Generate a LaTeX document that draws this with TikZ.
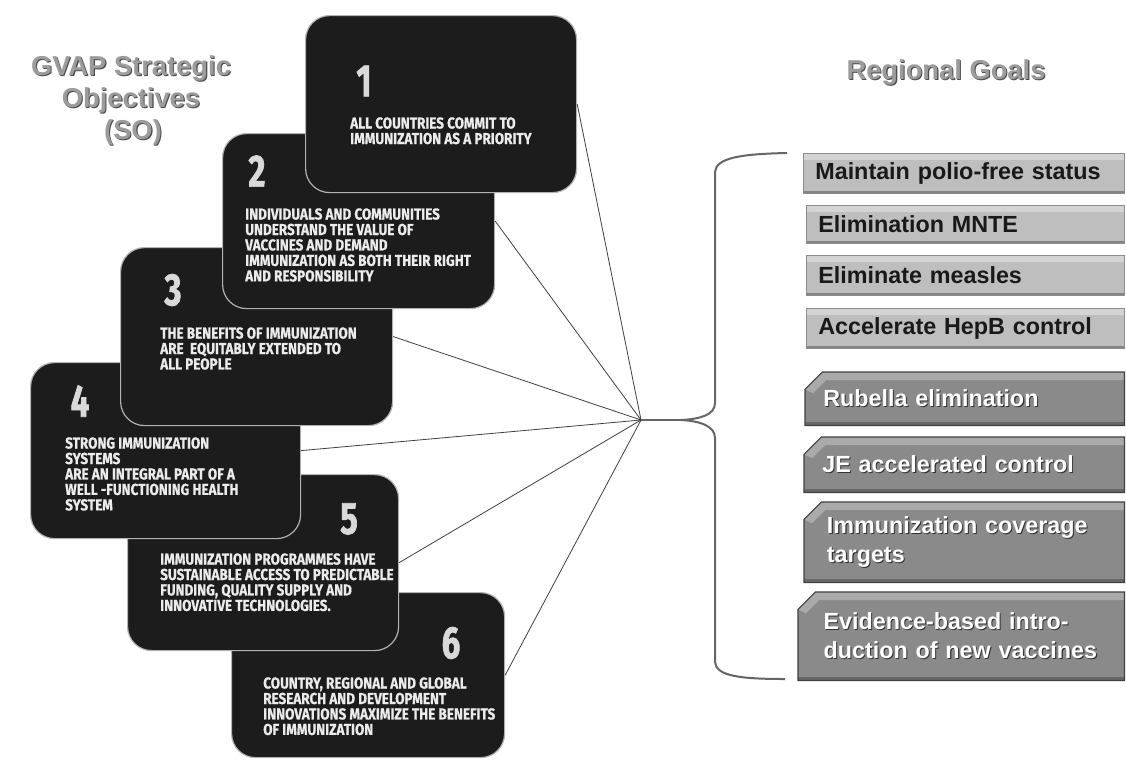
\documentclass[tikz,border=0pt]{standalone}
\usepackage{fontspec}
\setmainfont{Liberation Sans}
\newfontfamily\cardfont[FakeStretch=0.85,FakeBold=0.6]{Fira Sans}
\newfontfamily\numfont[FakeStretch=0.72,FakeBold=1.5]{Fira Sans}
\usetikzlibrary{backgrounds}
\definecolor{cardfill}{HTML}{1C1C1C}
\definecolor{goallight}{HTML}{BEBEBE}
\definecolor{goaldark}{HTML}{8A8A8A}
\definecolor{titlegray}{HTML}{9C9C9C}
\newcommand\shtext[2]{\makebox[0pt][l]{\textcolor{#1}{\kern0.8pt\raisebox{-0.8pt}{#2}}}#2}
\newcommand\bevelbox[1]{%
  \fill[goaldark] ([yshift=-13pt]#1.north west) -- ([xshift=13pt]#1.north west) -- (#1.north east) -- (#1.south east) -- (#1.south west) -- cycle;
  \fill[white,opacity=0.28] ([yshift=-13pt]#1.north west) -- ([xshift=13pt]#1.north west) -- (#1.north east) -- ([yshift=-6pt]#1.north east) -- ([shift={(16pt,-6pt)}]#1.north west) -- ([shift={(6pt,-16pt)}]#1.north west) -- cycle;
  \fill[black,opacity=0.25] ([yshift=3pt]#1.south west) rectangle (#1.south east);
  \draw[black!75, line width=0.9pt] ([yshift=-13pt]#1.north west) -- ([xshift=13pt]#1.north west) -- (#1.north east) -- (#1.south east) -- (#1.south west) -- cycle;
}
\begin{document}
\begin{tikzpicture}[x=0.75pt,y=-0.75pt,
  title/.style={inner sep=0pt, text=titlegray, font=\bfseries\fontsize{20.5}{24}\selectfont},
  card/.style={draw=white!70!black, line width=0.9pt, fill=cardfill, rounded corners=18pt, anchor=north west, inner sep=0pt},
  cardtext/.style={anchor=north west, inner sep=0pt, align=left, text=white!92!black, font=\cardfont\bfseries\fontsize{11.9}{11.6}\selectfont},
  num/.style={inner sep=0pt, text=white!85!black, font=\numfont\bfseries\fontsize{34}{34}\selectfont},
  link/.style={draw=black!75, line width=0.6pt},
  goalL/.style={rectangle, anchor=north west, fill=goallight, draw=black!45, line width=0.5pt, inner xsep=9pt, inner ysep=0pt, align=left, text=black!90, font=\bfseries\fontsize{17.5}{22}\selectfont,
    path picture={\fill[white,opacity=0.35] (path picture bounding box.north west) rectangle ([yshift=-5pt]path picture bounding box.north east);
                  \fill[black,opacity=0.3] (path picture bounding box.south west) rectangle ([yshift=2pt]path picture bounding box.south east);}},
  goalD/.style={rectangle, anchor=north west, inner ysep=0pt, inner xsep=13.5pt, align=left, text=white, font=\bfseries\fontsize{17.5}{22}\selectfont}
]
\useasboundingbox (0,0) rectangle (1126,760);

% titles
\node[title, anchor=base] (so1) at (131,75) {\shtext{black!70}{GVAP Strategic}};
\node[title, anchor=base] (so2) at (131,107) {\shtext{black!70}{Objectives}};
\node[title, anchor=base] (so3) at (133,139) {\shtext{black!70}{(SO)}};
\node[title, anchor=base] (rg) at (946,79) {\shtext{black!70}{Regional Goals}};

% cards (bottom first)
\node[card, minimum width=204.75pt, minimum height=123.75pt] (c6) at (231,592) {};
\node[num] (n6) at (451,643) {6};
\node[cardtext] (t6) at (263,677) {COUNTRY, REGIONAL AND GLOBAL\\RESEARCH AND DEVELOPMENT\\INNOVATIONS MAXIMIZE THE BENEFITS\\OF IMMUNIZATION};

\node[card, minimum width=203.25pt, minimum height=132pt] (c5) at (127,474) {};
\node[num] (n5) at (349,519) {5};
\node[cardtext] (t5) at (160,553) {IMMUNIZATION PROGRAMMES HAVE\\SUSTAINABLE ACCESS TO PREDICTABLE\\FUNDING, QUALITY SUPPLY AND\\INNOVATIVE TECHNOLOGIES.};

\node[card, minimum width=202.5pt, minimum height=132pt] (c4) at (30,362) {};
\node[num] (n4) at (80,401) {4};
\node[cardtext] (t4) at (65,437) {STRONG IMMUNIZATION\\SYSTEMS\\ARE AN INTEGRAL PART OF A\\WELL -FUNCTIONING HEALTH\\SYSTEM};

\node[card, minimum width=204pt, minimum height=133.5pt] (c3) at (120,247) {};
\node[num] (n3) at (173,290) {3};
\node[cardtext] (t3) at (160,327) {THE BENEFITS OF IMMUNIZATION\\ARE\ \ EQUITABLY EXTENDED TO\\ALL PEOPLE};

\node[card, minimum width=204pt, minimum height=131.25pt] (c2) at (222,133) {};
\node[num] (n2) at (257,171) {2};
\node[cardtext] (t2) at (245,208) {INDIVIDUALS AND COMMUNITIES\\UNDERSTAND THE VALUE OF\\VACCINES AND DEMAND\\IMMUNIZATION AS BOTH THEIR RIGHT\\AND RESPONSIBILITY};

\node[card, minimum width=203.25pt, minimum height=132.75pt] (c1) at (305,15) {};
\node[num] (n1) at (364,81) {1};
\node[cardtext] (t1) at (350,117) {ALL COUNTRIES COMMIT TO\\IMMUNIZATION AS A PRIORITY};

% connectors
\coordinate (conv) at (641,420);
\coordinate (tip) at (681,420);
\foreach \c in {c1,c2,c3,c4,c5,c6} \draw[link] (\c.east) -- (conv);
\draw[black!60, line width=2pt] (conv) -- (tip);

% brace
\draw[black!60, line width=1.5pt] (787,153) .. controls (740,154) and (716,158) .. (715,172) -- (715,403)
  .. controls (715,415) and (700,419) .. (tip) .. controls (700,421) and (715,426) .. (715,438)
  -- (715,662) .. controls (716,676) and (740,679) .. (785,679);

% regional goals: light boxes
\node[goalL, minimum height=30pt, text width=222.75pt] (g1) at (803,153) {Maintain polio-free status};
\node[goalL, minimum height=28.5pt, text width=220.5pt] (g2) at (806,205) {Elimination MNTE};
\node[goalL, minimum height=30pt, text width=220.5pt] (g3) at (806,255) {Eliminate measles};
\node[goalL, minimum height=30pt, text width=220.5pt] (g4) at (806,308) {Accelerate HepB control};

% regional goals: dark chamfered boxes
\node[goalD, minimum height=39.75pt, text width=212.25pt] (g5) at (805,372) {\shtext{black!80}{Rubella elimination}};
\node[goalD, minimum height=41.25pt, text width=213pt] (g6) at (804,437) {\shtext{black!80}{JE accelerated control}};
\node[goalD, inner xsep=17pt, minimum height=60pt, text width=206pt] (g7) at (804,502) {\shtext{black!80}{Immunization coverage}\\\shtext{black!80}{targets}};
\node[goalD, inner xsep=19pt, minimum height=66pt, text width=206.5pt] (g8) at (798,592) {\shtext{black!80}{Evidence-based intro-}\\\shtext{black!80}{duction of new vaccines}};
\begin{pgfonlayer}{background}
  \fill[white] (0,0) rectangle (1126,760);
  \bevelbox{g5}
  \bevelbox{g6}
  \bevelbox{g7}
  \bevelbox{g8}
\end{pgfonlayer}
\end{tikzpicture}
\end{document}
